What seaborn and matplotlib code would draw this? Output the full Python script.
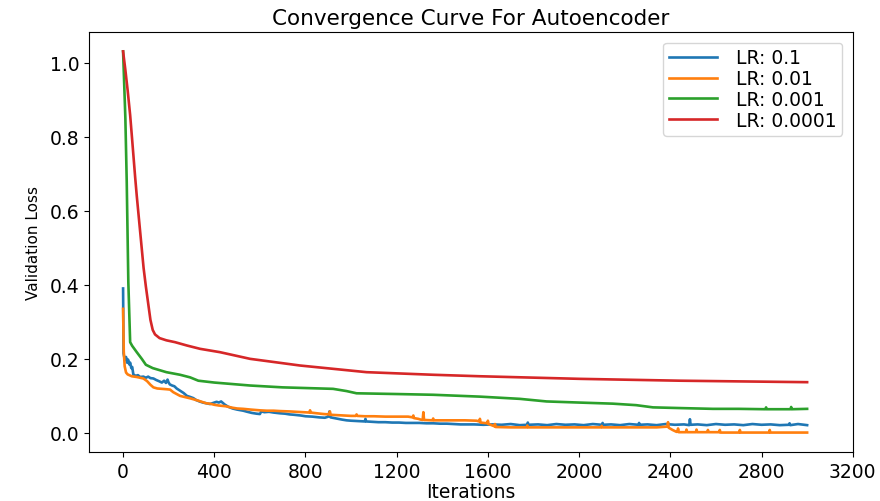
import matplotlib
matplotlib.use("Agg")
import matplotlib.pyplot as plt
import pandas as pd
import seaborn as sns

# ---- validation loss per learning rate ----
iters_lr1 = [0, 2, 5, 9, 13, 17, 22, 27, 31, 36,
             40, 45, 55, 65, 75, 89, 100, 110, 120, 133,
             145, 160, 170, 180, 188, 195, 199, 205, 215, 225,
             235, 250, 265, 280, 295, 308, 320, 335, 350, 365,
             381, 395, 410, 420, 430, 445, 460, 480, 500, 527,
             545, 565, 585, 600, 606, 620, 640, 660, 688, 710,
             730, 750, 780, 800, 830, 860, 885, 900, 905, 910,
             935, 960, 980, 1000, 1030, 1060, 1063, 1066, 1090, 1120,
             1150, 1180, 1210, 1240, 1272, 1300, 1330, 1360, 1390, 1420,
             1450, 1480, 1500, 1540, 1580, 1620, 1660, 1700, 1740, 1772,
             1775, 1778, 1820, 1860, 1900, 1940, 1980, 2020, 2060, 2100,
             2103, 2106, 2140, 2180, 2220, 2260, 2263, 2266, 2300, 2340,
             2380, 2420, 2460, 2483, 2486, 2489, 2520, 2560, 2600, 2640,
             2680, 2720, 2760, 2800, 2840, 2880, 2920, 2923, 2926, 2960,
             3000]
loss_lr1 = [0.390, 0.215, 0.205, 0.198, 0.205, 0.190, 0.198, 0.185, 0.190, 0.175,
            0.178, 0.158, 0.154, 0.156, 0.151, 0.152, 0.149, 0.152, 0.148, 0.147,
            0.143, 0.139, 0.136, 0.141, 0.135, 0.144, 0.137, 0.131, 0.128, 0.126,
            0.120, 0.114, 0.108, 0.100, 0.097, 0.094, 0.089, 0.085, 0.082, 0.080,
            0.078, 0.081, 0.084, 0.082, 0.085, 0.077, 0.071, 0.066, 0.063, 0.060,
            0.057, 0.054, 0.052, 0.051, 0.058, 0.056, 0.057, 0.055, 0.053, 0.052,
            0.050, 0.049, 0.047, 0.045, 0.044, 0.042, 0.041, 0.044, 0.058, 0.042,
            0.039, 0.036, 0.034, 0.033, 0.032, 0.031, 0.038, 0.031, 0.030, 0.029,
            0.029, 0.028, 0.028, 0.027, 0.027, 0.027, 0.026, 0.026, 0.025, 0.025,
            0.024, 0.023, 0.023, 0.023, 0.022, 0.023, 0.022, 0.024, 0.021, 0.022,
            0.028, 0.022, 0.023, 0.021, 0.024, 0.022, 0.023, 0.021, 0.024, 0.022,
            0.027, 0.022, 0.023, 0.021, 0.024, 0.022, 0.027, 0.022, 0.023, 0.021,
            0.024, 0.022, 0.023, 0.021, 0.037, 0.022, 0.023, 0.021, 0.024, 0.022,
            0.023, 0.021, 0.024, 0.022, 0.023, 0.021, 0.022, 0.026, 0.021, 0.024,
            0.021]

iters_lr2 = [0, 3, 7, 13, 20, 38, 60, 89, 105, 120,
             133, 150, 170, 190, 206, 220, 235, 250, 270, 290,
             308, 330, 350, 365, 381, 400, 420, 450, 480, 500,
             527, 560, 600, 630, 660, 688, 732, 760, 790, 817,
             820, 823, 850, 880, 904, 907, 910, 940, 970, 1000,
             1021, 1024, 1027, 1060, 1100, 1150, 1200, 1250, 1270, 1273,
             1276, 1295, 1305, 1314, 1317, 1320, 1357, 1360, 1363, 1400,
             1450, 1500, 1550, 1562, 1565, 1568, 1597, 1600, 1603, 1620,
             1628, 1631, 1634, 1700, 1770, 1773, 1776, 1850, 1950, 2050,
             2096, 2099, 2102, 2200, 2300, 2340, 2387, 2390, 2393, 2410,
             2427, 2431, 2434, 2437, 2468, 2471, 2474, 2512, 2515, 2518,
             2562, 2565, 2568, 2614, 2617, 2620, 2660, 2702, 2705, 2708,
             2760, 2833, 2836, 2839, 2900, 2950, 3000]
loss_lr2 = [0.335, 0.220, 0.180, 0.163, 0.158, 0.153, 0.151, 0.147, 0.140, 0.130,
            0.123, 0.120, 0.119, 0.118, 0.117, 0.110, 0.105, 0.100, 0.097, 0.094,
            0.091, 0.087, 0.083, 0.080, 0.079, 0.076, 0.074, 0.072, 0.068, 0.066,
            0.065, 0.063, 0.061, 0.060, 0.060, 0.059, 0.058, 0.057, 0.056, 0.055,
            0.061, 0.055, 0.053, 0.051, 0.050, 0.058, 0.049, 0.048, 0.047, 0.046,
            0.046, 0.050, 0.046, 0.045, 0.045, 0.044, 0.044, 0.044, 0.042, 0.047,
            0.040, 0.038, 0.036, 0.035, 0.056, 0.035, 0.034, 0.039, 0.034, 0.034,
            0.034, 0.034, 0.033, 0.031, 0.038, 0.028, 0.026, 0.033, 0.024, 0.020,
            0.018, 0.024, 0.016, 0.015, 0.015, 0.020, 0.015, 0.015, 0.015, 0.015,
            0.015, 0.019, 0.015, 0.015, 0.015, 0.015, 0.017, 0.029, 0.014, 0.008,
            0.003, 0.003, 0.012, 0.002, 0.002, 0.009, 0.002, 0.002, 0.009, 0.002,
            0.002, 0.008, 0.002, 0.002, 0.008, 0.001, 0.001, 0.001, 0.008, 0.001,
            0.001, 0.001, 0.008, 0.001, 0.001, 0.001, 0.001]

iters_lr3 = [0, 10, 16, 23, 31, 40, 60, 82, 100, 130,
             190, 250, 294, 330, 400, 557, 700, 921, 980, 1024,
             1200, 1360, 1565, 1740, 1857, 2000, 2148, 2250, 2324, 2450,
             2587, 2700, 2817, 2820, 2823, 2900, 2927, 2930, 2933, 3000]
loss_lr3 = [1.030, 0.850, 0.678, 0.407, 0.245, 0.235, 0.218, 0.200, 0.184, 0.175,
            0.164, 0.157, 0.150, 0.141, 0.136, 0.128, 0.123, 0.119, 0.113, 0.107,
            0.105, 0.103, 0.098, 0.092, 0.085, 0.082, 0.079, 0.075, 0.069, 0.067,
            0.065, 0.065, 0.064, 0.069, 0.064, 0.064, 0.064, 0.070, 0.064, 0.065]

iters_lr4 = [0, 10, 20, 31, 40, 53, 60, 70, 82, 90,
             100, 110, 120, 130, 140, 160, 190, 228, 280, 338,
             425, 557, 776, 1068, 1360, 1565, 2003, 2442, 3000]
loss_lr4 = [1.030, 0.980, 0.925, 0.858, 0.790, 0.690, 0.640, 0.575, 0.497, 0.445,
            0.395, 0.350, 0.305, 0.278, 0.266, 0.256, 0.250, 0.245, 0.236, 0.227,
            0.218, 0.200, 0.182, 0.164, 0.157, 0.153, 0.146, 0.141, 0.137]

lr_labels = ["LR: 0.1", "LR: 0.01", "LR: 0.001", "LR: 0.0001"]
line_colors = ["#1f77b4", "#ff7f0e", "#2ca02c", "#d62728"]

x_ticks = [0, 400, 800, 1200, 1600, 2000, 2400, 2800, 3200]
y_ticks = [0.0, 0.2, 0.4, 0.6, 0.8, 1.0]

series = [(iters_lr1, loss_lr1), (iters_lr2, loss_lr2),
          (iters_lr3, loss_lr3), (iters_lr4, loss_lr4)]
frames = []
for label, (xs, ys) in zip(lr_labels, series):
    frames.append(pd.DataFrame({"Iterations": xs, "Validation Loss": ys, "lr": label}))
df = pd.concat(frames, ignore_index=True)

plt.rcParams["font.family"] = ["DejaVu Sans"]

fig = plt.figure(figsize=(8.8, 5.02), dpi=100)
ax = fig.add_axes([0.101, 0.0976, 0.868, 0.836])

sns.lineplot(data=df, x="Iterations", y="Validation Loss", hue="lr",
             hue_order=lr_labels, palette=line_colors, estimator=None,
             sort=False, linewidth=1.9, ax=ax)

ax.set_xlim(-150, 3200)
ax.set_ylim(-0.0515, 1.0815)
ax.set_xticks(x_ticks)
ax.set_yticks(y_ticks)
ax.set_xticklabels([str(t) for t in x_ticks])
ax.set_yticklabels([f"{t:.1f}" for t in y_ticks])
ax.tick_params(labelsize=13.5)

ax.set_title("Convergence Curve For Autoencoder", fontsize=15.5, pad=6)
ax.set_xlabel("Iterations", fontsize=13.5, labelpad=1)
ax.set_ylabel("Validation Loss", fontsize=11, labelpad=6)

handles, labels = ax.get_legend_handles_labels()
ax.legend(handles, labels, loc="upper right", fontsize=13.5,
          labelspacing=0.1, borderpad=0.3, handlelength=2.6,
          handletextpad=1.0, borderaxespad=0.55)

fig.savefig("out.png", dpi=100)
